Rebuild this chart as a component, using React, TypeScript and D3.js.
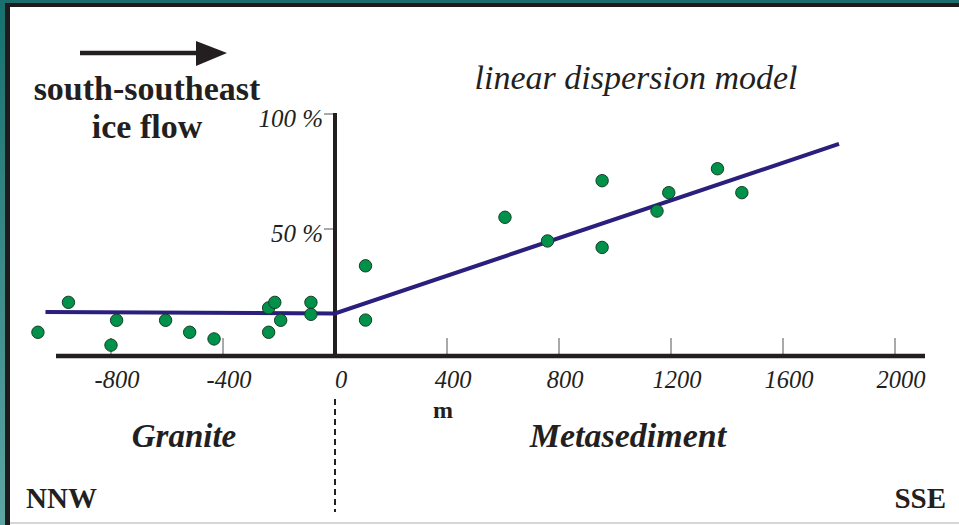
import * as d3 from 'd3';
import React from 'react';

// distance along the transect (m) and share of metasediment clasts (%)
const graniteX = [-1061, -952, -780, -800, -605, -519, -432, -237, -237, -215, -194, -86, -86];
const graniteY = [5.1, 18.1, 10.3, -0.5, 10.3, 5.1, 2.2, 5.1, 15.7, 18.1, 10.3, 18.1, 12.9];
const metaX = [109, 109, 607, 759, 954, 954, 1150, 1192, 1366, 1453];
const metaY = [34.0, 10.4, 55.1, 44.8, 71.0, 42.0, 57.8, 65.8, 76.2, 65.8];

// dispersion model: flat over granite, linear rise over metasediment
const modelX = [-1034, 0, 1800];
const modelY = [13.9, 13.3, 87];

const xTicks = [-800, -400, 0, 400, 800, 1200, 1600, 2000];
const yTicks = [50, 100];

const W = 959;
const H = 525;
const ink = '#231f20';
const serif = '"Liberation Serif", "Times New Roman", serif';

const App: React.FC = () => {
  const x = d3.scaleLinear().domain([0, 2000]).range([335, 895]);
  const y = d3.scaleLinear().domain([0, 100]).range([344, 114]);
  const axisY = 356;

  const points = [
    ...graniteX.map((v, i) => ({ x: v, y: graniteY[i] })),
    ...metaX.map((v, i) => ({ x: v, y: metaY[i] })),
  ];

  const line = d3
    .line<number>()
    .x((d) => x(d))
    .y((_, i) => y(modelY[i]));

  return (
    <svg
      width={W}
      height={H}
      style={{ position: 'absolute', left: 0, top: 0, display: 'block' }}
      fontFamily={serif}
    >
      <defs>
        <linearGradient id="teal" x1="0" y1="0" x2="0" y2="1">
          <stop offset="0%" stopColor="#16706e" />
          <stop offset="100%" stopColor="#5da5a3" />
        </linearGradient>
      </defs>

      {/* frame */}
      <rect x={0} y={0} width={W} height={H} fill="#ffffff" />
      <rect x={0} y={0} width={6} height={H} fill="url(#teal)" />
      <rect x={0} y={0} width={W} height={3} fill="#1b6e6c" />
      <rect x={5} y={3} width={W - 5} height={4} fill="#1e1b1c" />
      <rect x={5} y={3} width={5} height={H - 3} fill="#1e1b1c" />
      <line x1={10} x2={W} y1={523} y2={523} stroke="#c8c8c8" strokeWidth={1.5} />

      {/* ice flow arrow */}
      <line x1={80} x2={200} y1={53} y2={53} stroke={ink} strokeWidth={4.5} />
      <path d="M196,41 L227,53 L196,66 Z" fill={ink} />
      <text x={147} y={100} textAnchor="middle" fontSize={34} fontWeight="bold" fill={ink}>
        south-southeast
      </text>
      <text x={147} y={138} textAnchor="middle" fontSize={34} fontWeight="bold" fill={ink}>
        ice flow
      </text>

      <text x={636} y={89} textAnchor="middle" fontSize={34} fontStyle="italic" fill={ink}>
        linear dispersion model
      </text>

      {/* x ticks */}
      {xTicks.map((t) => (
        <g key={t}>
          {t !== 0 && (
            <line x1={x(t)} x2={x(t)} y1={axisY - 18} y2={axisY} stroke="#555" strokeWidth={1} />
          )}
          <text x={x(t) + 6} y={388} textAnchor="middle" fontSize={24.5} fontStyle="italic" fill={ink}>
            {t}
          </text>
        </g>
      ))}

      {/* y ticks */}
      {yTicks.map((t) => (
        <g key={t}>
          <line x1={324} x2={335} y1={y(t)} y2={y(t)} stroke="#555" strokeWidth={1} />
          <text x={323} y={y(t) + 13} textAnchor="end" fontSize={25} fontStyle="italic" fill={ink}>
            {t} %
          </text>
        </g>
      ))}

      {/* axes */}
      <line x1={56} x2={925} y1={axisY} y2={axisY} stroke={ink} strokeWidth={4.5} />
      <line x1={x(0)} x2={x(0)} y1={y(100) - 1} y2={axisY + 2} stroke={ink} strokeWidth={4} />

      {/* model */}
      <path d={line(modelX) ?? ''} fill="none" stroke="#2a1f7c" strokeWidth={4} />

      {/* samples */}
      {points.map((p, i) => (
        <circle key={i} cx={x(p.x)} cy={y(p.y)} r={6.2} fill="#00924a" stroke="#173d22" strokeWidth={1} />
      ))}

      <text x={443} y={418} textAnchor="middle" fontSize={24} fontWeight="bold" fill={ink}>
        m
      </text>

      {/* contact */}
      <line
        x1={x(0)}
        x2={x(0)}
        y1={399}
        y2={512}
        stroke={ink}
        strokeWidth={2}
        strokeDasharray="6,4"
      />

      <text x={184} y={447} textAnchor="middle" fontSize={33} fontWeight="bold" fontStyle="italic" fill={ink}>
        Granite
      </text>
      <text x={628} y={447} textAnchor="middle" fontSize={34} fontWeight="bold" fontStyle="italic" fill={ink}>
        Metasediment
      </text>

      <text x={26} y={508} fontSize={29} fontWeight="bold" fill={ink}>
        NNW
      </text>
      <text x={946} y={508} textAnchor="end" fontSize={29} fontWeight="bold" fill={ink}>
        SSE
      </text>
    </svg>
  );
};

export default App;
